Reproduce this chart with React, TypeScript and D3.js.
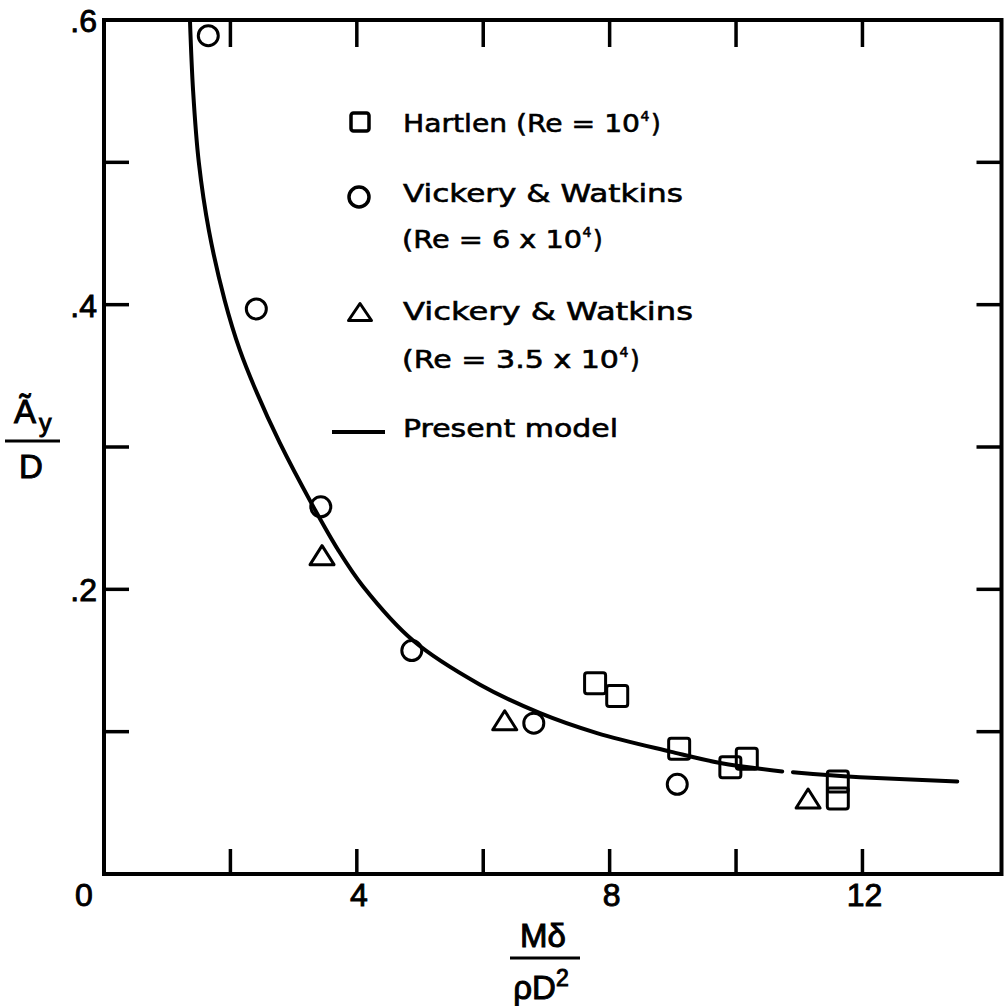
import React from "react";
import * as d3 from "d3";

// ---- data ----
const hartlenX = [7.77, 8.12, 9.1, 9.91, 10.17, 11.61, 11.61];
const hartlenY = [0.134, 0.125, 0.088, 0.075, 0.081, 0.065, 0.053];

const vw6X = [1.65, 2.41, 3.43, 4.87, 6.8, 9.07];
const vw6Y = [0.589, 0.397, 0.258, 0.157, 0.106, 0.063];

const vw35X = [3.45, 6.34, 11.14];
const vw35Y = [0.224, 0.108, 0.053];

// present model curve (two pieces, with the small break seen in the original)
const modelAX = [1.36, 1.41, 1.5, 1.66, 1.91, 2.15, 2.4, 2.78, 3.3, 3.7, 4.1, 4.89, 5.95, 6.9, 7.8, 8.96, 9.75, 10.73];
const modelAY = [0.6, 0.55, 0.5, 0.452, 0.403, 0.368, 0.34, 0.303, 0.259, 0.228, 0.202, 0.164, 0.133, 0.113, 0.099, 0.086, 0.078, 0.072];
const modelBX = [10.9, 11.44, 11.96, 13.5];
const modelBY = [0.0715, 0.0695, 0.068, 0.065];

const xTicks = [2, 4, 6, 8, 10, 12];
const xTickLabels = [4, 8, 12];
const yTicks = [0.1, 0.2, 0.3, 0.4, 0.5];
const yTickLabels = [0.2, 0.4, 0.6];

const FONT = "'DejaVu Sans', 'Liberation Sans', Arial, sans-serif";
const LFONT = "'Liberation Sans', Arial, sans-serif";

function SupText(props: { x: number; y: number; main: string; mainEnd: number }) {
  const { x, y, main, mainEnd } = props;
  return (
    <g>
      <text x={x} y={y} textLength={mainEnd - x} lengthAdjust="spacingAndGlyphs">{main}</text>
      <text x={mainEnd + 0.5} y={y - 11} fontSize={14}>4</text>
      <text x={mainEnd + 11} y={y}>)</text>
    </g>
  );
}

export default function App() {
  const W = 1007, H = 1006;
  const x = d3.scaleLinear().domain([0, 14.2]).range([104, 1001.5]);
  const y = d3.scaleLinear().domain([0, 0.6]).range([874, 20]);
  const line = d3
    .line<[number, number]>()
    .x((d) => x(d[0]))
    .y((d) => y(d[1]))
    .curve(d3.curveCatmullRom.alpha(0.5));
  const ptsA = modelAX.map((v, i) => [v, modelAY[i]] as [number, number]);
  const ptsB = modelBX.map((v, i) => [v, modelBY[i]] as [number, number]);
  const tickLen = 25;
  const sw = 3;

  const sq = (cx: number, cy: number, key: string, s = 20, w = sw) => (
    <rect key={key} x={cx - s / 2} y={cy - s / 2} width={s} height={s} rx={2.5} fill="none" stroke="#000" strokeWidth={w} />
  );
  const tri = (cx: number, cy: number, key: string, w = 24, h = 19) => {
    const p = `M${cx - w / 2},${cy + h / 2}L${cx},${cy - h / 2}L${cx + w / 2},${cy + h / 2}Z`;
    return <path key={key} d={p} fill="none" stroke="#000" strokeWidth={sw} strokeLinejoin="round" />;
  };

  return (
    <svg width={W} height={H} style={{ position: "absolute", left: 0, top: 0, background: "#fff" }} fontFamily={FONT}>
      <rect x={0} y={0} width={W} height={H} fill="#fff" />
      {/* frame */}
      <rect x={x(0)} y={y(0.6)} width={x(14.2) - x(0)} height={y(0) - y(0.6)} fill="none" stroke="#000" strokeWidth={4} />
      {/* ticks */}
      {xTicks.map((t) => (
        <g key={"xt" + t}>
          <line x1={x(t)} x2={x(t)} y1={y(0)} y2={y(0) - tickLen} stroke="#000" strokeWidth={3.5} />
          <line x1={x(t)} x2={x(t)} y1={y(0.6)} y2={y(0.6) + tickLen + 2} stroke="#000" strokeWidth={3.5} />
        </g>
      ))}
      {yTicks.map((t) => (
        <g key={"yt" + t}>
          <line x1={x(0)} x2={x(0) + tickLen} y1={y(t)} y2={y(t)} stroke="#000" strokeWidth={3.5} />
          <line x1={x(14.2)} x2={x(14.2) - tickLen} y1={y(t)} y2={y(t)} stroke="#000" strokeWidth={3.5} />
        </g>
      ))}
      {/* tick labels */}
      <g fontFamily={LFONT} stroke="#000" strokeWidth={0.9}>
        <text x={84} y={906} fontSize={32} textAnchor="middle">0</text>
        {xTickLabels.map((t) => (
          <text key={"xl" + t} x={x(t) + 2} y={906} fontSize={32} textAnchor="middle">{t}</text>
        ))}
        {yTickLabels.map((t) => (
          <text key={"yl" + t} x={97} y={y(t) + 12} fontSize={32} textAnchor="end">{d3.format(".1f")(t).replace(/^0/, "")}</text>
        ))}
      </g>
      {/* axis titles */}
      <g fontSize={33} textAnchor="middle" fontFamily={LFONT} stroke="#000" strokeWidth={1}>
        <text x={543} y={947}>Mδ</text>
        <line x1={510} x2={580} y1={958} y2={958} stroke="#000" strokeWidth={3} />
        <text x={541} y={999}>ρD<tspan fontSize={23} dy={-13}>2</tspan></text>
      </g>
      <g fontSize={33} fontFamily={LFONT} stroke="#000" strokeWidth={1}>
        <text x={14} y={423}>Ã</text>
        <text x={39} y={432} fontSize={25}>y</text>
        <line x1={5} x2={60} y1={441} y2={441} stroke="#000" strokeWidth={3} />
        <text x={31} y={478} textAnchor="middle">D</text>
      </g>
      {/* model curve */}
      <path d={line(ptsA) || ""} fill="none" stroke="#000" strokeWidth={4} strokeLinecap="round" />
      <path d={line(ptsB) || ""} fill="none" stroke="#000" strokeWidth={4} strokeLinecap="round" />
      {/* data */}
      {hartlenX.map((v, i) => sq(x(v), y(hartlenY[i]), "h" + i, 21))}
      {vw6X.map((v, i) => (
        <circle key={"c" + i} cx={x(v)} cy={y(vw6Y[i])} r={10} fill="none" stroke="#000" strokeWidth={sw} />
      ))}
      {vw35X.map((v, i) => tri(x(v), y(vw35Y[i]), "t" + i))}
      {/* legend */}
      {sq(360, 122, "lsq", 18, 3.5)}
      <circle cx={359} cy={197} r={10} fill="none" stroke="#000" strokeWidth={3.5} />
      {tri(360, 312, "ltri", 23, 17)}
      <line x1={332} x2={385} y1={432} y2={432} stroke="#000" strokeWidth={4} />
      <g fontSize={25} stroke="#000" strokeWidth={0.6}>
        <SupText x={403} y={132} main="Hartlen (Re = 10" mainEnd={640} />
        <text x={403} y={202} textLength={280} lengthAdjust="spacingAndGlyphs">Vickery  &amp;  Watkins</text>
        <SupText x={402} y={248} main="(Re = 6 x 10" mainEnd={582} />
        <text x={403} y={320} textLength={290} lengthAdjust="spacingAndGlyphs">Vickery  &amp;  Watkins</text>
        <SupText x={402} y={368} main="(Re = 3.5 x 10" mainEnd={619} />
        <text x={403} y={437} textLength={215} lengthAdjust="spacingAndGlyphs">Present  model</text>
      </g>
    </svg>
  );
}
